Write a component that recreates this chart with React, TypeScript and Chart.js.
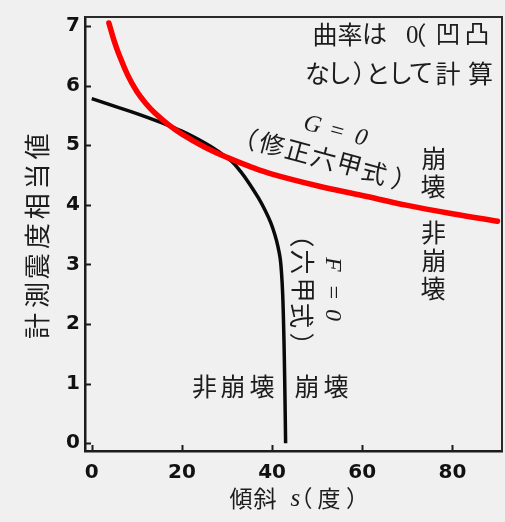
import { useEffect, useRef } from "react";
import { Chart, registerables } from "chart.js";

Chart.register(...registerables);

// Axis ticks
const slopeTicks = [0, 20, 40, 60, 80];
const intensityTicks = [0, 1, 2, 3, 4, 5, 6, 7];

// G = 0 (修正六甲式): slope (deg) vs. equivalent seismic intensity
const modifiedSlope = [3.8, 5, 6, 8, 10, 12, 14, 17, 20, 25, 30, 35, 40, 50, 60, 70, 80, 90];
const modifiedIntensity = [7.05, 6.74, 6.53, 6.17, 5.9, 5.7, 5.54, 5.345, 5.186, 4.97, 4.795, 4.645, 4.515, 4.32, 4.155, 3.99, 3.85, 3.725];

// F = 0 (六甲式)
const rokkoSlope = [0, 5, 10, 15, 20, 25, 28, 31, 33, 35, 37, 38.5, 39.7, 40.6, 41.3, 41.8, 42.1, 42.35, 42.55, 42.72, 42.87, 43];
const rokkoIntensity = [5.78, 5.655, 5.53, 5.39, 5.235, 5.04, 4.9, 4.73, 4.56, 4.35, 4.11, 3.9, 3.7, 3.5, 3.3, 3.1, 2.85, 2.5, 2.0, 1.4, 0.7, 0];

const INK = "#1c1c1c";
const CJK = '"Noto Sans CJK JP", "Noto Sans CJK SC", sans-serif';
const SERIF = '"Liberation Serif", "DejaVu Serif", serif';

type Ctx = CanvasRenderingContext2D;

// Draw a glyph so that its visible ink box is centred on (gx, gy).
function glyph(ctx: Ctx, ch: string, gx: number, gy: number, font: string) {
  ctx.font = font;
  ctx.textAlign = "left";
  ctx.textBaseline = "alphabetic";
  const m = ctx.measureText(ch);
  const x = gx - (m.actualBoundingBoxRight - m.actualBoundingBoxLeft) / 2;
  const y = gy + (m.actualBoundingBoxAscent - m.actualBoundingBoxDescent) / 2;
  ctx.fillText(ch, x, y);
}

function rotated(ctx: Ctx, cx: number, cy: number, deg: number, fn: () => void) {
  ctx.save();
  ctx.translate(cx, cy);
  ctx.rotate((deg * Math.PI) / 180);
  fn();
  ctx.restore();
}

const decor = {
  id: "decor",
  afterDraw(chart: Chart) {
    const ctx = chart.ctx;
    const { left, right, top, bottom } = chart.chartArea;
    const xs = chart.scales.x;
    const ys = chart.scales.y;

    ctx.save();
    // frame: top and right edges
    ctx.strokeStyle = "#2a2a2a";
    ctx.lineWidth = 2;
    ctx.beginPath();
    ctx.moveTo(left, top);
    ctx.lineTo(right, top);
    ctx.lineTo(right, bottom);
    ctx.stroke();

    // inward tick marks
    ctx.strokeStyle = INK;
    ctx.lineWidth = 2;
    ctx.beginPath();
    for (const v of slopeTicks) {
      const px = Math.round(xs.getPixelForValue(v)) + 0.5;
      ctx.moveTo(px, bottom);
      ctx.lineTo(px, bottom - 6);
    }
    for (const v of intensityTicks) {
      const py = Math.round(ys.getPixelForValue(v)) + 0.5;
      ctx.moveTo(left, py);
      ctx.lineTo(left + 6, py);
    }
    ctx.stroke();

    ctx.fillStyle = INK;
    const cjk = `25px ${CJK}`;

    // y-axis title
    const yTitle = "計測震度相当値";
    rotated(ctx, 37, 236.5, -90, () => {
      for (let k = 0; k < yTitle.length; k++) glyph(ctx, yTitle[k], (k - 3) * 29.8, 0, `26px ${CJK}`);
    });

    // x-axis title
    const xf = `23px ${CJK}`;
    glyph(ctx, "傾", 241, 498, xf);
    glyph(ctx, "斜", 265, 498, xf);
    glyph(ctx, "s", 295, 500, `italic 25px ${SERIF}`);
    glyph(ctx, "（", 308, 498, xf);
    glyph(ctx, "度", 329, 498, xf);
    glyph(ctx, "）", 350, 498, xf);

    // note, top right
    glyph(ctx, "曲", 325, 34, cjk);
    glyph(ctx, "率", 350, 34, cjk);
    glyph(ctx, "は", 375, 34, cjk);
    glyph(ctx, "0", 412, 34, `25px ${SERIF}`);
    glyph(ctx, "（", 422, 35, cjk);
    glyph(ctx, "凹", 448, 34, cjk);
    glyph(ctx, "凸", 477, 34, cjk);
    const line2: [string, number][] = [
      ["な", 318], ["し", 341], ["）", 357], ["と", 379], ["し", 402], ["て", 421], ["計", 448], ["算", 480],
    ];
    for (const [ch, x] of line2) glyph(ctx, ch, x, 73, cjk);

    // G = 0 label
    rotated(ctx, 337, 130.5, 15, () => {
      const f = `italic 24px ${SERIF}`;
      glyph(ctx, "G", -25, 0, f);
      glyph(ctx, "=", 0, 0, f);
      glyph(ctx, "0", 25, 0, f);
    });
    rotated(ctx, 323.5, 158, 15.2, () => {
      glyph(ctx, "（", -73, 0, cjk);
      const s = "修正六甲式";
      for (let i = 0; i < s.length; i++) glyph(ctx, s[i], (i - 2) * 26.7, 0, cjk);
      glyph(ctx, "）", 76, 0, cjk);
    });

    // F = 0 label
    rotated(ctx, 333, 290, 90, () => {
      const f = `italic 24px ${SERIF}`;
      glyph(ctx, "F", -26, 0, f);
      glyph(ctx, "=", 2, 0, f);
      glyph(ctx, "0", 25, 0, f);
    });
    rotated(ctx, 302, 290, 90, () => {
      glyph(ctx, "（", -47, 0, cjk);
      glyph(ctx, "六", -28, 0, cjk);
      glyph(ctx, "甲", 0, 0, cjk);
      glyph(ctx, "式", 26, 0, cjk);
      glyph(ctx, "）", 47, 0, cjk);
    });

    // region labels
    glyph(ctx, "崩", 433, 158, cjk);
    glyph(ctx, "壊", 433, 186, cjk);
    glyph(ctx, "非", 433, 232, cjk);
    glyph(ctx, "崩", 433, 260, cjk);
    glyph(ctx, "壊", 433, 288, cjk);

    glyph(ctx, "非", 204, 386, cjk);
    glyph(ctx, "崩", 232, 386, cjk);
    glyph(ctx, "壊", 262, 386, cjk);
    glyph(ctx, "崩", 306, 386, cjk);
    glyph(ctx, "壊", 336, 386, cjk);

    ctx.restore();
  },
};

export default function App() {
  const ref = useRef<HTMLCanvasElement | null>(null);

  useEffect(() => {
    if (!ref.current) return;
    const tickFont = { family: '"DejaVu Sans", sans-serif', size: 20, weight: "bold" as const };
    const chart = new Chart(ref.current, {
      type: "scatter",
      data: {
        datasets: [
          {
            label: "G=0",
            data: modifiedSlope.map((x, i) => ({ x, y: modifiedIntensity[i] })),
            showLine: true,
            borderColor: "#ff0000",
            borderWidth: 5.5,
            pointRadius: 0,
            tension: 0.4,
            borderCapStyle: "round",
          },
          {
            label: "F=0",
            data: rokkoSlope.map((x, i) => ({ x, y: rokkoIntensity[i] })),
            showLine: true,
            borderColor: "#0a0a0a",
            borderWidth: 3.5,
            pointRadius: 0,
            tension: 0.4,
          },
        ],
      },
      options: {
        animation: false,
        responsive: false,
        devicePixelRatio: 1,
        layout: { padding: { top: 8, right: 3, left: 0, bottom: 0 } },
        plugins: { legend: { display: false }, tooltip: { enabled: false } },
        scales: {
          x: {
            type: "linear",
            min: -1.5,
            max: 91,
            afterFit: (s: any) => {
              s.height = 71;
            },
            afterBuildTicks: (s: any) => {
              s.ticks = slopeTicks.map((v) => ({ value: v }));
            },
            grid: { display: false, drawTicks: false },
            border: { display: true, color: INK, width: 2.5 },
            ticks: { font: tickFont, color: "#111", padding: 10, maxRotation: 0 },
          },
          y: {
            type: "linear",
            min: -0.13,
            max: 7.15,
            afterFit: (s: any) => {
              s.width = 85;
            },
            afterBuildTicks: (s: any) => {
              s.ticks = intensityTicks.map((v) => ({ value: v }));
            },
            grid: { display: false, drawTicks: false },
            border: { display: true, color: INK, width: 2.5 },
            ticks: { font: tickFont, color: "#111", padding: 5 },
          },
        },
      },
      plugins: [decor],
    });
    return () => chart.destroy();
  }, []);

  return (
    <div style={{ position: "fixed", left: 0, top: 0, width: 505, height: 522, background: "#f0f0f0" }}>
      <canvas ref={ref} width={505} height={522} style={{ display: "block" }} />
    </div>
  );
}
